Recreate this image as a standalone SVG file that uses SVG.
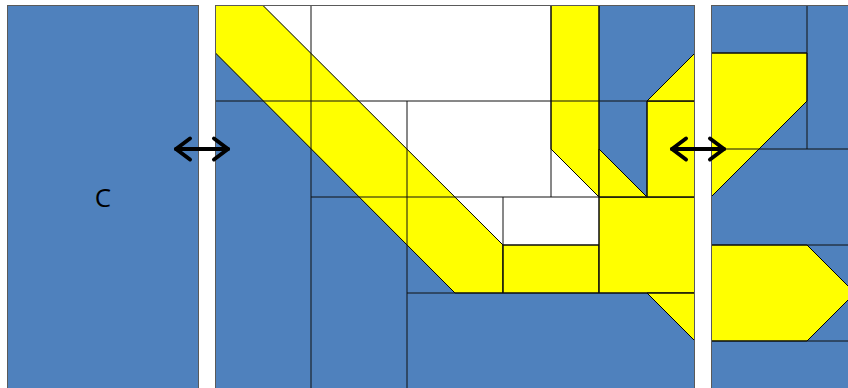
<svg xmlns="http://www.w3.org/2000/svg" width="848" height="388" viewBox="0 0 848 388">
  <style>
    .panel { fill: #4F81BD; stroke: #5a5a5a; stroke-width: 1; }
    .white { fill: #FFFFFF; stroke: none; }
    .yel { fill: #FFFF00; stroke: #000000; stroke-width: 1; stroke-linejoin: miter; }
    .grid { stroke: #111111; stroke-width: 1; fill: none; }
    .arrow { stroke: #000000; stroke-width: 4; fill: none; stroke-linecap: round; stroke-linejoin: round; }
    .label { font-family: "Open Sans", "Liberation Sans", sans-serif; font-size: 26px; fill: #000000; }
  </style>
  <rect x="0" y="0" width="848" height="388" fill="#FFFFFF"/>

  <g id="panel-left">
    <rect class="panel" x="7.5" y="5.5" width="191" height="400"/>
    <text class="label" x="103" y="207" text-anchor="middle">C</text>
  </g>

  <g id="panel-middle">
    <rect class="panel" x="215.5" y="5.5" width="479" height="400"/>
    <polygon class="white" points="263,5.5 551,5.5 551,149 599,197 599,245 503,245"/>
    <polygon class="yel" points="215.5,5.5 263,5.5 503,245 503,293 455,293 215.5,53"/>
    <polygon class="yel" points="503,245 599,245 599,293 503,293"/>
    <polygon class="yel" points="599,197 694.5,197 694.5,293 599,293"/>
    <polygon class="yel" points="647,293 694.5,293 694.5,340.5"/>
    <polygon class="yel" points="551,5.5 599,5.5 599,197 551,149"/>
    <polygon class="yel" points="599,149 647,197 599,197"/>
    <polygon class="yel" points="647,101 694.5,101 694.5,197 647,197"/>
    <polygon class="yel" points="647,101 694.5,53.5 694.5,101"/>
    <g class="grid">
      <line x1="215.5" y1="101" x2="694.5" y2="101"/>
      <line x1="311" y1="5.5" x2="311" y2="388"/>
      <line x1="551" y1="5.5" x2="551" y2="197"/>
      <line x1="599" y1="5.5" x2="599" y2="293"/>
      <line x1="407" y1="101" x2="407" y2="388"/>
      <line x1="647" y1="101" x2="647" y2="197"/>
      <line x1="311" y1="197" x2="694.5" y2="197"/>
      <line x1="503" y1="197" x2="503" y2="293"/>
      <line x1="503" y1="245" x2="599" y2="245"/>
      <line x1="407" y1="293" x2="694.5" y2="293"/>
    </g>
    <rect x="215.5" y="5.5" width="479" height="400" fill="none" stroke="#5a5a5a" stroke-width="1"/>
  </g>

  <g id="panel-right">
    <rect class="panel" x="711.5" y="5.5" width="160" height="400"/>
    <polygon class="yel" points="711.5,53 807,53 807,101 711.5,196.5"/>
    <polygon class="yel" points="711.5,245 807,245 855,293 807,341 711.5,341"/>
    <g class="grid">
      <line x1="807" y1="5.5" x2="807" y2="149"/>
      <line x1="711.5" y1="53" x2="807" y2="53"/>
      <line x1="711.5" y1="149" x2="848" y2="149"/>
      <line x1="711.5" y1="245" x2="848" y2="245"/>
      <line x1="711.5" y1="341" x2="848" y2="341"/>
    </g>
    <rect x="711.5" y="5.5" width="160" height="400" fill="none" stroke="#5a5a5a" stroke-width="1"/>
  </g>

  <g id="connectors">
    <g id="arrow-left-middle">
      <line class="arrow" x1="176" y1="149" x2="228" y2="149"/>
      <polyline class="arrow" points="190,138.5 176,149 190,159.5"/>
      <polyline class="arrow" points="214,138.5 228,149 214,159.5"/>
    </g>
    <g id="arrow-middle-right">
      <line class="arrow" x1="672" y1="149" x2="724" y2="149"/>
      <polyline class="arrow" points="686,138.5 672,149 686,159.5"/>
      <polyline class="arrow" points="710,138.5 724,149 710,159.5"/>
    </g>
  </g>
</svg>
